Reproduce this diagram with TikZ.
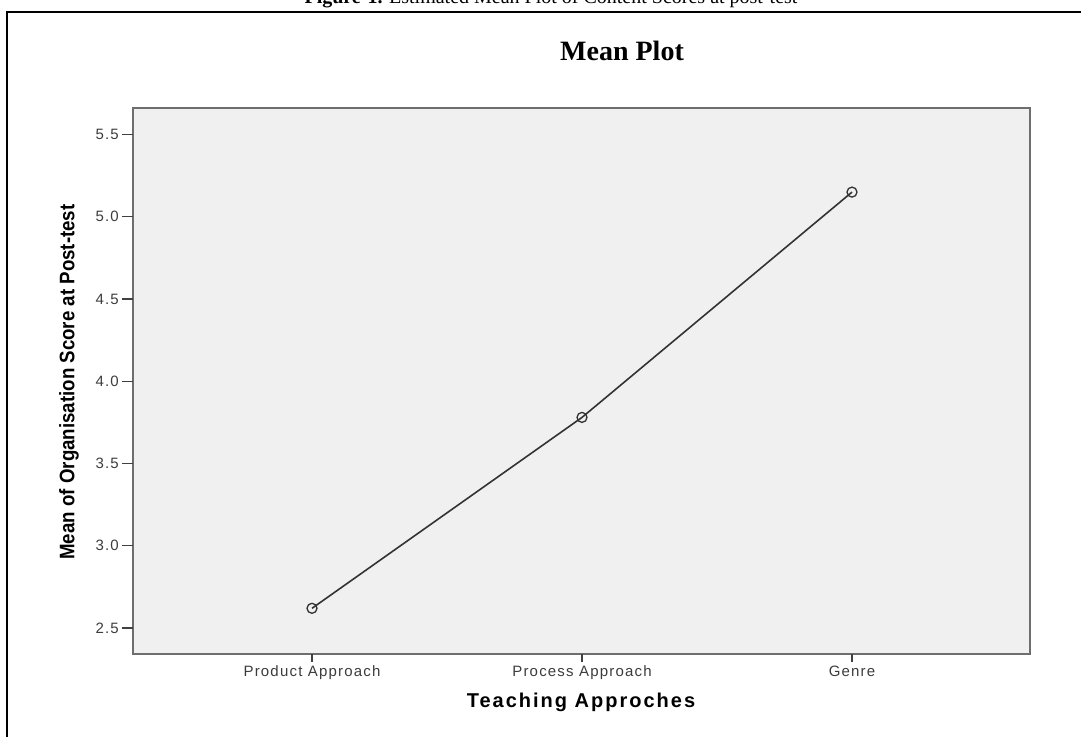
\documentclass[tikz,border=0pt]{standalone}
\usepackage{fontspec}
\setmainfont{Liberation Serif}
\setsansfont{Liberation Sans}
\newfontfamily\narrowsans[FakeStretch=0.89]{Liberation Sans}
\newfontfamily\widesans[LetterSpace=10]{Liberation Sans}
\newfontfamily\ticksans[LetterSpace=8]{Liberation Sans}
\definecolor{PlotFill}{HTML}{F0F0F0}
\definecolor{FrameGray}{HTML}{6E6E6E}
\definecolor{TickText}{HTML}{3C3C3C}
\usetikzlibrary{positioning}
\tikzset{
  tickLabel/.style={font=\ticksans\fontsize{15}{17}\selectfont, text=TickText, inner sep=0pt},
  tickMark/.style={draw=black!75, line width=1.2pt},
  meanPoint/.style={circle, draw=black!80, line width=1.3pt, fill=none, minimum size=10pt, inner sep=0pt},
  meanLine/.style={draw=black!80, line width=1.6pt},
  axisTitle/.style={font=\bfseries, inner sep=0pt},
  plotArea/.style={draw=FrameGray, line width=2pt, fill=PlotFill}
}

\begin{document}
\begin{tikzpicture}[x=1pt, y=-1pt]
\useasboundingbox (0,0) rectangle (1081,736);
% outer frame
\draw[line width=2pt] (7,745) -- (7,12) -- (1090,12);
% caption, partly cut at the top
\node[anchor=base, inner sep=0pt, font=\fontsize{20}{22}\selectfont] (caption) at (551,4)
  {\textbf{Figure-1.} Estimated Mean Plot of Content Scores at post-test};
\node[anchor=base, inner sep=0pt, font=\bfseries\fontsize{28}{30}\selectfont] (title) at (622,60) {Mean Plot};
% plot area
\draw[plotArea] (133,108) rectangle (1030,654);
% y axis
\foreach \val in {2.5,3.0,3.5,4.0,4.5,5.0,5.5}{
  \pgfmathsetmacro{\ypos}{628-(\val-2.5)*164.5}
  \draw[tickMark] (122,\ypos) -- (133,\ypos);
  \node[tickLabel, anchor=east] at (119,\ypos) {\val};
}
% x axis
\foreach \xpos/\lab in {312/Product Approach, 582/Process Approach, 852/Genre}{
  \draw[tickMark] (\xpos,654) -- (\xpos,662);
  \node[tickLabel, anchor=base] at (\xpos,676) {\lab};
}
\node[axisTitle, rotate=90, font=\narrowsans\bfseries\fontsize{21}{23}\selectfont] (yTitle) at (69,382)
  {Mean of Organisation Score at Post-test};
\node[axisTitle, font=\widesans\bfseries\fontsize{20}{22}\selectfont] (xTitle) at (581,702) {Teaching Approches};
% means
\node[meanPoint] (productMean) at (312,608.3) {};
\node[meanPoint] (processMean) at (582,417.4) {};
\node[meanPoint] (genreMean) at (852,192.1) {};
\draw[meanLine] (productMean.center) -- (processMean.center) -- (genreMean.center);
\end{tikzpicture}
\end{document}
